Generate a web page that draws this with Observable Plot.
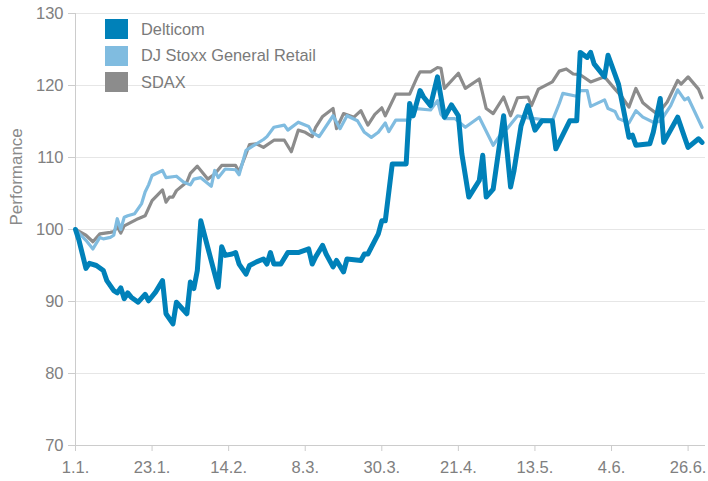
<!DOCTYPE html>
<html><head><meta charset="utf-8">
<script src="https://cdn.jsdelivr.net/npm/d3@7"></script>
<script src="https://cdn.jsdelivr.net/npm/@observablehq/plot@0.6"></script>
<style>
body{margin:0;background:#fff;font-family:"Liberation Sans",Arial,sans-serif;}
#wrap{position:relative;width:708px;height:481px;}
#legend{position:absolute;left:105px;top:16px;}
.item{display:flex;align-items:center;height:26.5px;}
.sw{width:23px;height:20px;margin-right:13px;}
.lab{font-size:16.4px;color:#7a7a7a;}
</style></head>
<body><div id="wrap"><div id="legend"></div></div>
<script>
const seriesNames = ["Delticom","DJ Stoxx General Retail","SDAX"];
const seriesColors = ["#0081b9","#80bce0","#8c8c8c"];

const delticomDates = ["01-01","01-02","01-04","01-05","01-07","01-09","01-10","01-12","01-13","01-14","01-15","01-16","01-17","01-19","01-21","01-22","01-24","01-26","01-27","01-29","01-30","02-02","02-03","02-04","02-05","02-06","02-08","02-11","02-12","02-13","02-15","02-16","02-17","02-19","02-20","02-22","02-24","02-25","02-26","02-27","03-01","03-03","03-06","03-09","03-10","03-11","03-13","03-14","03-16","03-17","03-19","03-20","03-24","03-25","03-26","03-29","03-30","03-31","04-02","04-06","04-07","04-08","04-10","04-11","04-13","04-15","04-17","04-19","04-21","04-22","04-24","04-27","04-28","04-29","05-01","05-04","05-06","05-07","05-09","05-11","05-13","05-15","05-18","05-19","05-23","05-25","05-26","05-28","05-29","05-30","06-02","06-03","06-06","06-09","06-10","06-11","06-15","06-16","06-18","06-19","06-23","06-25","06-26","06-29","06-30"];
const delticomValues = [100,98.5,94.6,95.3,95.0,94.3,92.9,91.5,91.2,91.9,90.4,91.2,90.6,89.9,91.0,90.1,91.3,92.9,88.3,86.9,89.9,88.3,92.7,91.8,94.3,101.2,97.5,92.0,97.6,96.4,96.6,96.8,95.2,93.8,95.0,95.5,95.9,95.2,96.8,95.2,95.2,96.8,96.8,97.3,95.2,96.2,97.8,96.6,94.8,95.7,94.1,95.9,95.7,96.6,96.6,99.4,101.2,101.2,109.1,109.1,117.5,115.8,119.3,118.4,117.2,121.2,115.6,117.3,115.8,110.5,104.5,106.8,110.3,104.5,105.6,115.8,105.9,108.2,114.4,117.2,113.8,115.1,115.1,111.2,115.1,115.1,124.6,123.9,124.6,123.0,121.2,124.2,120.2,112.8,113.1,111.7,111.9,113.5,118.2,112.1,115.6,112.8,111.4,112.6,112.1];

const stoxxDates = ["01-01","01-04","01-06","01-08","01-09","01-11","01-12","01-13","01-14","01-15","01-16","01-18","01-20","01-21","01-22","01-23","01-26","01-27","01-30","02-01","02-03","02-04","02-06","02-09","02-10","02-11","02-13","02-16","02-17","02-19","02-21","02-24","02-25","02-27","03-02","03-03","03-06","03-09","03-10","03-12","03-16","03-18","03-20","03-23","03-25","03-27","03-29","03-31","04-01","04-03","04-07","04-09","04-13","04-15","04-16","04-17","04-20","04-23","04-27","05-01","05-04","05-05","05-08","05-11","05-13","05-18","05-20","05-21","05-25","05-26","05-28","05-29","06-02","06-03","06-05","06-06","06-09","06-11","06-13","06-16","06-18","06-21","06-23","06-25","06-26","06-30"];
const stoxxValues = [100,98.5,97.3,98.9,98.7,98.9,99.2,101.5,100.0,101.7,101.9,102.2,103.6,105.2,106.2,107.5,108.2,107.2,107.4,106.6,106.2,107.0,107.2,106.0,108.2,107.2,108.4,108.3,107.6,111.0,111.6,112.5,112.9,114.2,114.5,113.8,114.9,114.3,113.5,112.9,115.8,114.0,115.8,115.1,113.5,112.8,113.5,114.8,113.6,115.2,115.2,116.8,116.6,117.9,116.0,115.4,115.4,114.2,115.6,111.7,113.8,114.0,115.8,115.5,115.4,115.1,117.5,118.9,118.5,119.3,119.3,117.1,118.0,116.8,116.4,115.4,114.8,116.5,115.6,114.9,115.0,117.2,119.4,118.0,118.3,114.2];

const sdaxDates = ["01-01","01-04","01-06","01-08","01-11","01-12","01-13","01-14","01-15","01-19","01-21","01-23","01-26","01-27","01-28","01-29","01-30","02-02","02-03","02-05","02-08","02-10","02-12","02-16","02-17","02-19","02-20","02-22","02-24","02-27","03-02","03-04","03-06","03-08","03-10","03-11","03-13","03-16","03-17","03-19","03-22","03-24","03-26","03-28","03-30","03-31","04-03","04-07","04-09","04-10","04-13","04-15","04-16","04-17","04-21","04-23","04-27","04-29","05-01","05-04","05-06","05-08","05-11","05-12","05-14","05-18","05-20","05-22","05-24","05-26","05-29","06-02","06-05","06-07","06-09","06-11","06-13","06-15","06-17","06-18","06-20","06-23","06-24","06-26","06-29","06-30"];
const sdaxValues = [100,99.2,98.3,99.4,99.6,99.7,100.4,99.5,100.5,101.5,101.9,104.0,105.5,103.8,104.5,104.5,105.4,106.6,107.8,108.8,107.0,107.7,108.9,108.9,108.0,110.5,111.8,111.9,111.4,112.4,112.4,110.8,113.8,113.5,112.9,114.2,115.7,116.8,114.0,116.1,115.6,116.5,114.5,116.0,116.9,115.8,118.8,118.8,121.0,121.9,121.9,122.5,122.4,119.6,121.7,119.6,120.9,116.8,116.1,118.4,115.8,118.3,118.4,117.2,119.5,120.5,122.0,122.3,121.6,121.5,120.5,121.2,119.5,118.4,117.0,119.6,117.6,116.8,116.1,116.5,117.7,120.7,120.2,121.2,119.5,118.3];

const year = "2015";
const xDomain = ["2015-01-01","2015-07-01"];
const xTickDates = ["2015-01-01","2015-01-23","2015-02-14","2015-03-08","2015-03-30","2015-04-21","2015-05-13","2015-06-04","2015-06-26"];
const xTickLabels = ["1.1.","23.1.","14.2.","8.3.","30.3.","21.4.","13.5.","4.6.","26.6."];
const yTicks = [70,80,90,100,110,120,130];
const yLabel = "Performance";

const parse = d3.utcParse("%Y-%m-%d");
function rows(name, dates, values){
  return dates.map((d,i)=>({series:name, date:parse(year+"-"+d), value:values[i]}));
}
const data = {
  "Delticom": rows(seriesNames[0], delticomDates, delticomValues),
  "DJ Stoxx General Retail": rows(seriesNames[1], stoxxDates, stoxxValues),
  "SDAX": rows(seriesNames[2], sdaxDates, sdaxValues)
};
const tickDates = xTickDates.map(parse);
const labelMap = new Map(tickDates.map((d,i)=>[+d, xTickLabels[i]]));

const chart = Plot.plot({
  width:708, height:481,
  marginLeft:75, marginRight:3, marginTop:13, marginBottom:36,
  style:{fontFamily:"'Liberation Sans', Arial, sans-serif", fontSize:"16.5px", color:"#808080", background:"#fff"},
  x:{type:"utc", domain:xDomain.map(parse)},
  y:{domain:[70,130]},
  marks:[
    Plot.gridY(yTicks.slice(1), {stroke:"#e6e6e6", strokeOpacity:1}),
    Plot.axisY(yTicks, {tickSize:7, tickPadding:5, stroke:"#cccccc", fill:"#808080", label:null}),
    Plot.ruleX([parse(xDomain[0])], {stroke:"#cccccc"}),
    Plot.ruleY([70], {stroke:"#cccccc"}),
    Plot.axisX(tickDates, {tickSize:6, tickPadding:10, stroke:"#cccccc", fill:"#808080", label:null, tickFormat:d=>labelMap.get(+d)}),
    Plot.text([yLabel], {frameAnchor:"left", dx:-59, dy:-4, rotate:-90, fill:"#8a8a8a", fontSize:17}),
    Plot.line(data["SDAX"], {x:"date", y:"value", stroke:seriesColors[2], strokeWidth:3.2}),
    Plot.line(data["DJ Stoxx General Retail"], {x:"date", y:"value", stroke:seriesColors[1], strokeWidth:3.2}),
    Plot.line(data["Delticom"], {x:"date", y:"value", stroke:seriesColors[0], strokeWidth:5})
  ]
});
document.getElementById("wrap").prepend(chart);

const legend = document.getElementById("legend");
seriesNames.forEach((n,i)=>{
  const it = document.createElement("div"); it.className="item";
  const sw = document.createElement("div"); sw.className="sw"; sw.style.background=seriesColors[i];
  const lb = document.createElement("span"); lb.className="lab"; lb.textContent=n;
  it.append(sw, lb); legend.append(it);
});
</script>
</body></html>
